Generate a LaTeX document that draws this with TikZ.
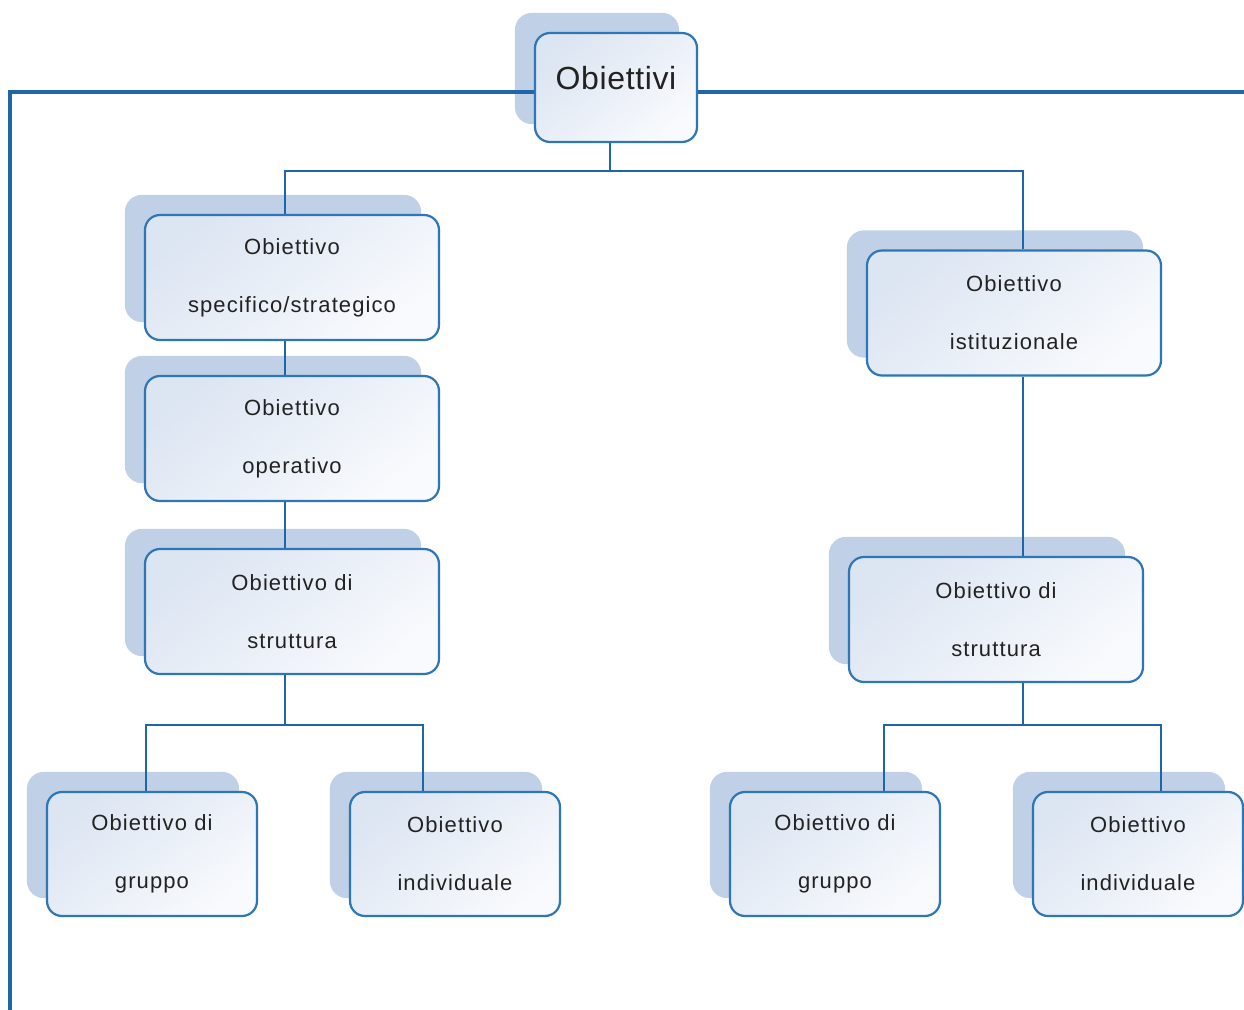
\documentclass[tikz,border=0pt]{standalone}
\usepackage{fontspec}
\newfontfamily\boxfont[LetterSpace=5]{Liberation Sans}
\newfontfamily\topfont[LetterSpace=2]{Liberation Sans}
\definecolor{linec}{HTML}{1F66A8}
\definecolor{borderc}{HTML}{2E76B6}
\definecolor{shadowc}{HTML}{BFD0E7}
\definecolor{boxtop}{HTML}{DCE5F2}
\definecolor{boxbot}{HTML}{F8FAFD}
\definecolor{txt}{HTML}{222222}
\pgfdeclarelayer{shadowlayer}
\pgfdeclarelayer{linelayer}
\pgfsetlayers{shadowlayer,linelayer,main}
\tikzset{
  bx/.style={draw=borderc, line width=1.1pt, rounded corners=7.5pt,
    top color=boxtop, bottom color=boxbot, shading angle=40,
    align=center, text=txt, inner sep=0pt,
    font=\boxfont\fontsize{11}{13}\selectfont},
  wide/.style={bx, minimum width=147pt, minimum height=62.5pt},
  small/.style={bx, minimum width=105pt, minimum height=62pt},
  conn/.style={draw=linec, line width=1.3pt},
  frame/.style={draw=linec, line width=1.9pt},
}
\newcommand{\shadowof}[1]{\fill[shadowc, rounded corners=8.5pt]
  ([xshift=-9.5pt,yshift=9.5pt]#1.south west) rectangle ([xshift=-9.5pt,yshift=9.5pt]#1.north east);}
\begin{document}
\begin{tikzpicture}[x=0.5pt,y=-0.5pt]
\useasboundingbox (0,0) rectangle (1244,1010);
% boxes
\node[bx, minimum width=81pt, minimum height=54.5pt, font=\topfont\fontsize{16}{19}\selectfont] (top) at (616,87.5) {\raisebox{10pt}{Obiettivi}};
\node[wide] (L1) at (292,277.5) {Obiettivo\\[16pt]specifico/strategico};
\node[wide] (L2) at (292,438.5) {Obiettivo\\[16pt]operativo};
\node[wide] (L3) at (292,611.5) {Obiettivo di\\[16pt]struttura};
\node[small] (BL1) at (152,854) {Obiettivo di\\[16pt]gruppo};
\node[small] (BL2) at (455,854) {Obiettivo\\[16pt]individuale};
\node[wide] (R1) at (1014,313) {Obiettivo\\[16pt]istituzionale};
\node[wide] (R2) at (996,619.5) {Obiettivo di\\[16pt]struttura};
\node[small] (BR1) at (835,854) {Obiettivo di\\[16pt]gruppo};
\node[small] (BR2) at (1138,854) {Obiettivo\\[16pt]individuale};
\coordinate (j1) at (610,171);
\coordinate (j2) at (285,725);
\coordinate (j3) at (1023,725);
\coordinate (fl) at (10,92);
\coordinate (fb) at (10,1010);
\coordinate (fr) at (1244,92);
% shadows
\begin{pgfonlayer}{shadowlayer}
\fill[white] (0,0) rectangle (1244,1010);
\shadowof{top}\shadowof{L1}\shadowof{L2}\shadowof{L3}
\shadowof{BL1}\shadowof{BL2}\shadowof{R1}\shadowof{R2}
\shadowof{BR1}\shadowof{BR2}
\end{pgfonlayer}
% connectors
\begin{pgfonlayer}{linelayer}
\draw[frame] (fb) -- (fl) -- ([yshift=-2.25pt]top.west);
\draw[frame] ([yshift=-2.25pt]top.east) -- (fr);
\draw[conn] ([xshift=-3pt]top.south) -- (j1);
\draw[conn] ([xshift=-3.5pt]L1.north) |- (j1) -| ([xshift=4.5pt]R1.north);
\draw[conn] ([xshift=-3.5pt]L1.south) -- ([xshift=-3.5pt]L2.north);
\draw[conn] ([xshift=-3.5pt]L2.south) -- ([xshift=-3.5pt]L3.north);
\draw[conn] ([xshift=-3.5pt]L3.south) -- (j2);
\draw[conn] ([xshift=-3pt]BL1.north) |- (j2) -| ([xshift=-16pt]BL2.north);
\draw[conn] ([xshift=4.5pt]R1.south) -- ([xshift=13.5pt]R2.north);
\draw[conn] ([xshift=13.5pt]R2.south) -- (j3);
\draw[conn] ([xshift=24.5pt]BR1.north) |- (j3) -| ([xshift=11.5pt]BR2.north);
\end{pgfonlayer}
\end{tikzpicture}
\end{document}
